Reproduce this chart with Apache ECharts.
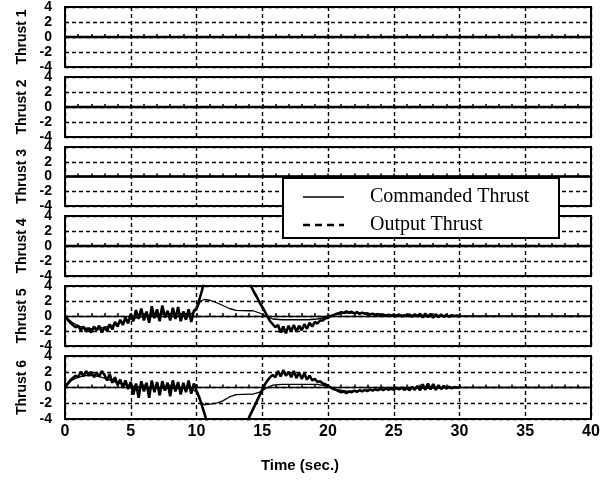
<!DOCTYPE html>
<html><head><meta charset="utf-8">
<script src="https://cdn.jsdelivr.net/npm/echarts@6/dist/echarts.min.js"></script>
<style>html,body{margin:0;padding:0;background:#fff}#c{width:614px;height:481px}</style>
</head><body><div id="c"></div>
<script>
// ---------- data ----------
const PANEL_NAMES = ['Thrust 1','Thrust 2','Thrust 3','Thrust 4','Thrust 5','Thrust 6'];
const X_MIN = 0, X_MAX = 40, X_STEP = 5;
const Y_MIN = -4, Y_MAX = 4, Y_STEP = 2;
const LEGEND_NAMES = ['Commanded Thrust','Output Thrust'];
const X_TITLE = 'Time (sec.)';

// Thrusts 1-4 : flat at zero
const T_FLAT = [0, 40];
const THRUST1_CMD = [0, 0], THRUST1_OUT = [0, 0];
const THRUST2_CMD = [0, 0], THRUST2_OUT = [0, 0];
const THRUST3_CMD = [0, 0], THRUST3_OUT = [0, 0];
const THRUST4_CMD = [0, 0], THRUST4_OUT = [0, 0];

// commanded thrust sample times (s)
const T_CMD = [0,0.5,1,1.5,2,2.5,3,3.5,4,4.5,5,6,7,8,9,9.6,10.0,10.3,10.6,11,11.5,12,12.5,13,14,14.3,14.8,15.3,15.8,16.5,17.5,18.5,19.2,19.8,20.5,21.5,22.5,23.5,25,27,29,30,40];
const THRUST5_CMD = [0,-0.8,-1.3,-1.6,-1.7,-1.7,-1.5,-1.3,-1.0,-0.7,-0.4,0.0,0.2,0.3,0.3,0.3,0.8,2.0,2.2,2.1,1.8,1.4,1.0,0.75,0.7,0.7,0.4,0.0,-0.4,-0.5,-0.5,-0.5,-0.4,-0.2,0.2,0.45,0.4,0.25,0.1,0.1,0.05,0,0];
const THRUST6_CMD = [0,0.9,1.3,1.5,1.5,1.4,1.2,0.9,0.6,0.4,0.2,0.0,-0.1,-0.1,-0.1,-0.1,-0.6,-1.8,-2.2,-2.1,-2.0,-1.7,-1.2,-0.9,-0.85,-0.85,-0.6,-0.1,0.3,0.4,0.4,0.4,0.4,0.2,-0.2,-0.5,-0.4,-0.3,-0.15,-0.1,-0.05,0,0];

// output thrust sample times (s), every 0.2 s from 0 to 30
const T_OUT = [
 0.0,0.2,0.4,0.6,0.8, 1.0,1.2,1.4,1.6,1.8, 2.0,2.2,2.4,2.6,2.8, 3.0,3.2,3.4,3.6,3.8, 4.0,4.2,4.4,4.6,4.8,
 5.0,5.2,5.4,5.6,5.8, 6.0,6.2,6.4,6.6,6.8, 7.0,7.2,7.4,7.6,7.8, 8.0,8.2,8.4,8.6,8.8, 9.0,9.2,9.4,9.6,9.8,
 10.0,10.2,10.4,10.6,10.8, 11.0,11.2,11.4,11.6,11.8, 12.0,12.2,12.4,12.6,12.8, 13.0,13.2,13.4,13.6,13.8, 14.0,14.2,14.4,14.6,14.8,
 15.0,15.2,15.4,15.6,15.8, 16.0,16.2,16.4,16.6,16.8, 17.0,17.2,17.4,17.6,17.8, 18.0,18.2,18.4,18.6,18.8, 19.0,19.2,19.4,19.6,19.8,
 20.0,20.2,20.4,20.6,20.8, 21.0,21.2,21.4,21.6,21.8, 22.0,22.2,22.4,22.6,22.8, 23.0,23.2,23.4,23.6,23.8, 24.0,24.2,24.4,24.6,24.8,
 25.0,25.2,25.4,25.6,25.8, 26.0,26.2,26.4,26.6,26.8, 27.0,27.2,27.4,27.6,27.8, 28.0,28.2,28.4,28.6,28.8, 29.0,29.2,29.4,29.6,29.8,
 30.0];
const THRUST5_OUT = [
 0,-0.5,-0.9,-1.2,-1.5, -1.3,-1.9,-1.4,-2.1,-1.6, -2.2,-1.4,-1.9,-1.3,-2.2, -1.5,-2.0,-1.1,-1.8,-0.8, -1.4,-0.5,-1.2,-0.2,-1.0,
 0.3,-0.7,0.8,-0.4,1.0, -0.6,0.6,-0.9,1.3,-0.3, 0.9,-0.7,1.4,-0.2,0.7, -0.6,1.1,-0.4,1.2,-0.7, 0.6,-0.5,0.9,-0.8,0.7,
 1.0,2.1,3.3,4.6,5.5, 6,6,6,6,6, 6,6,6,6,6, 6,6,6,6,5.2, 4.5,3.8,3.1,2.5,1.8,
 1.2,0.6,-0.1,-0.7,-1.1, -1.5,-1.2,-2.2,-1.4,-2.3, -1.3,-2.0,-1.2,-2.1,-1.3, -1.9,-1.1,-1.7,-0.9,-1.4, -0.8,-1.0,-0.6,-0.6,-0.3,
 -0.25,0.0,0.1,0.25,0.35, 0.5,0.4,0.6,0.45,0.55, 0.35,0.5,0.3,0.45,0.3, 0.35,0.2,0.3,0.15,0.25, 0.1,0.2,0.05,0.15,0.05,
 0.15,0.0,0.2,-0.05,0.1, 0.0,0.2,-0.1,0.25,-0.05, 0.3,-0.2,0.35,-0.15,0.3, -0.25,0.25,-0.15,0.2,-0.1, 0.15,-0.1,0.1,0.0,0.05,
 0.0];
const THRUST6_OUT = [
 0,0.5,0.9,1.2,1.5, 1.3,2.0,1.4,2.1,1.5, 2.0,1.3,1.9,1.4,2.1, 1.6,0.9,1.7,0.6,1.3, 0.3,1.0,0.0,0.9,-0.2,
 0.7,-0.9,0.5,-1.3,0.8, -0.5,0.6,-1.3,0.9,-0.6, 0.7,-1.0,0.8,-0.4,0.6, -1.1,0.9,-0.5,0.7,-0.9, 0.6,-0.6,0.9,-0.8,0.5,
 -0.4,-1.2,-2.2,-3.3,-4.4, -5.5,-6,-6,-6,-6, -6,-6,-6,-6,-6, -6,-6,-6,-5.5,-4.6, -3.8,-3.1,-2.4,-1.7,-1.0,
 -0.3,0.4,0.9,1.3,1.6, 1.3,2.1,1.4,2.2,1.5, 2.0,1.3,2.1,1.2,1.9, 1.1,1.8,1.0,1.5,0.9, 1.1,0.7,0.8,0.5,0.4,
 0.2,0.0,-0.2,-0.3,-0.45, -0.6,-0.5,-0.7,-0.5,-0.6, -0.4,-0.55,-0.35,-0.5,-0.3, -0.45,-0.25,-0.4,-0.2,-0.35, -0.15,-0.35,-0.1,-0.3,-0.15,
 -0.3,-0.05,-0.25,0.0,-0.3, -0.1,-0.35,0.1,-0.3,0.2, -0.35,0.4,-0.3,0.5,-0.25, 0.45,-0.3,0.3,-0.2,0.2, -0.15,0.1,-0.1,0.05,0.0,
 0.0];

// ---------- build ----------
function pairs(t, v) { return t.map((x, i) => [x, v[i]]); }
const PANELS = [
  {cmd: pairs(T_FLAT, THRUST1_CMD), out: pairs(T_FLAT, THRUST1_OUT), zero: false},
  {cmd: pairs(T_FLAT, THRUST2_CMD), out: pairs(T_FLAT, THRUST2_OUT), zero: false},
  {cmd: pairs(T_FLAT, THRUST3_CMD), out: pairs(T_FLAT, THRUST3_OUT), zero: false},
  {cmd: pairs(T_FLAT, THRUST4_CMD), out: pairs(T_FLAT, THRUST4_OUT), zero: false},
  {cmd: pairs(T_CMD, THRUST5_CMD), out: pairs(T_OUT, THRUST5_OUT), zero: true},
  {cmd: pairs(T_CMD, THRUST6_CMD), out: pairs(T_OUT, THRUST6_OUT), zero: true}
];

const TOPS = [7, 77, 147, 216, 286, 356];
const HEIGHTS = [60, 60, 59, 60, 60, 63];
const FONT = 'Liberation Sans, Arial, sans-serif';
const SERIF = 'Liberation Serif, Times New Roman, serif';
const dash = {type: [4, 3], color: '#000', width: 1.4};

const grid = [], xAxis = [], yAxis = [], series = [];

PANELS.forEach((p, i) => {
  grid.push({left: 65, width: 526, top: TOPS[i], height: HEIGHTS[i], show: true,
    borderColor: '#000', borderWidth: 2, backgroundColor: 'transparent', containLabel: false});
  xAxis.push({type: 'value', gridIndex: i, min: X_MIN, max: X_MAX, interval: X_STEP,
    axisLine: {show: false},
    axisTick: {show: true, inside: true, length: 3, lineStyle: {color: '#000', width: 1.5}},
    minorTick: {show: true, splitNumber: 5, length: 3, lineStyle: {color: '#000', width: 1.5}},
    splitLine: {show: true, lineStyle: dash},
    axisLabel: {show: i === PANELS.length - 1, color: '#000', fontFamily: FONT, fontWeight: 'bold', fontSize: 16, margin: 5}
  });
  yAxis.push({type: 'value', gridIndex: i, min: Y_MIN, max: Y_MAX, interval: Y_STEP,
    axisLine: {show: false}, axisTick: {show: false},
    splitLine: {show: true, lineStyle: dash},
    axisLabel: {color: '#000', fontFamily: FONT, fontWeight: 'bold', fontSize: 14, margin: 13},
    name: PANEL_NAMES[i], nameLocation: 'middle', nameGap: 36, nameRotate: 90,
    nameTextStyle: {color: '#000', fontFamily: FONT, fontWeight: 'bold', fontSize: 14}
  });
  const cmd = {name: LEGEND_NAMES[0], type: 'line', xAxisIndex: i, yAxisIndex: i, data: p.cmd,
    symbol: 'none', lineStyle: {color: '#000', width: 1.3}, z: 3};
  if (p.zero) {
    cmd.markLine = {silent: true, symbol: 'none', label: {show: false}, animation: false,
      lineStyle: {type: 'solid', color: '#000', width: 1.3}, data: [{yAxis: 0}]};
  }
  series.push(cmd);
  series.push({name: LEGEND_NAMES[1], type: 'line', xAxisIndex: i, yAxisIndex: i, data: p.out,
    symbol: 'none', lineStyle: {color: '#000', width: 2.6, join: 'bevel'}, z: 4});
});

// legend box drawn with graphic elements
const LX = 283, LY = 178, LW = 276, LH = 60, LZ = 100;
const legendGraphic = [
  {type: 'rect', z: LZ, shape: {x: LX, y: LY, width: LW, height: LH}, style: {fill: '#fff', stroke: '#000', lineWidth: 2}},
  {type: 'line', z: LZ + 1, shape: {x1: LX + 20, y1: LY + 19, x2: LX + 61, y2: LY + 19}, style: {stroke: '#000', lineWidth: 1.5}},
  {type: 'line', z: LZ + 1, shape: {x1: LX + 20, y1: LY + 47, x2: LX + 61, y2: LY + 47}, style: {stroke: '#000', lineWidth: 2.5, lineDash: [7, 5]}},
  {type: 'text', z: LZ + 1, style: {text: LEGEND_NAMES[0], x: LX + 87, y: LY + 19, textVerticalAlign: 'middle', font: '20px ' + SERIF, fill: '#000'}},
  {type: 'text', z: LZ + 1, style: {text: LEGEND_NAMES[1], x: LX + 87, y: LY + 47, textVerticalAlign: 'middle', font: '20px ' + SERIF, fill: '#000'}}
];

const option = {
  animation: false,
  backgroundColor: '#fff',
  grid, xAxis, yAxis, series,
  graphic: legendGraphic.concat([
    {type: 'text', z: 10, style: {text: X_TITLE, x: 300, y: 466, textAlign: 'center',
      textVerticalAlign: 'middle', font: 'bold 15px ' + FONT, fill: '#000'}}])
};

const chart = echarts.init(document.getElementById('c'), null, {renderer: 'canvas'});
chart.setOption(option);
</script></body></html>
